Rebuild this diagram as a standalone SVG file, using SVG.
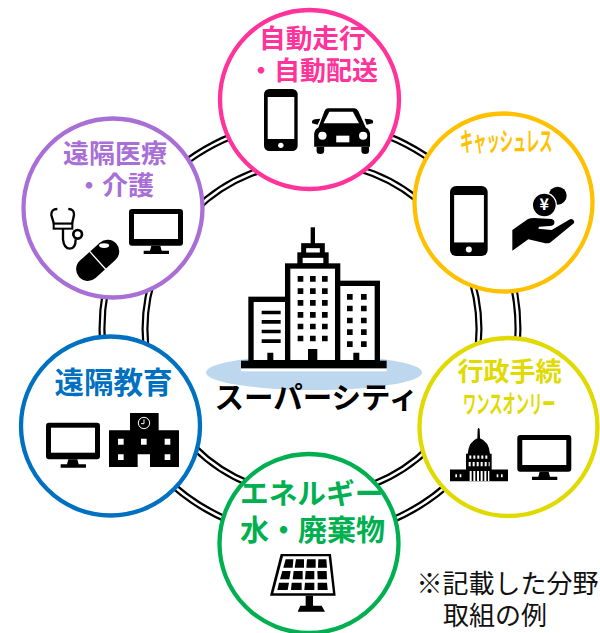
<svg xmlns="http://www.w3.org/2000/svg" xmlns:xlink="http://www.w3.org/1999/xlink" width="600" height="633" viewBox="0 0 600 633">
<style>
text{font-family:"Noto Sans CJK JP","Noto Sans",sans-serif;font-weight:700}
.ring-o{fill:none;stroke:#000;stroke-width:7}
.ring-i{fill:none;stroke:#fff;stroke-width:2.6}
.c{fill:#fff;stroke-width:4.3}
.k{fill:#000}
.w{fill:#fff}
.pink{fill:#FF3399}.orange{fill:#FFC000}.purple{fill:#A86FD6}.blue{fill:#0070C0}.green{fill:#00B050}.yellow{fill:#E0DA00}
.note{font-weight:400;font-size:26px;fill:#111}
</style>
<defs>
<g id="phone"><rect width="100" height="186" rx="16" class="k"/><rect x="11" y="24" width="79" height="126" class="w"/><circle cx="50" cy="169" r="8" class="w"/></g>
<g id="monitor"><rect width="162" height="110" rx="9" class="k"/><rect x="15" y="15" width="132" height="75" class="w"/><path d="M67 110H94L98 125H120V135H44V125H63Z" class="k"/></g>
</defs>
<rect width="600" height="633" fill="#fff"/>
<g id="connectors">
<circle class="ring-o" cx="310" cy="329" r="208"/><circle class="ring-i" cx="310" cy="329" r="208"/>
<circle class="ring-o" cx="312" cy="329" r="167"/><circle class="ring-i" cx="312" cy="329" r="167"/>
</g>
<g id="center">
<ellipse cx="314" cy="372.5" rx="108" ry="17.5" fill="#BDD7EE"/>
<g transform="translate(200 220) scale(.3333)">
<rect x="123" y="445" width="437" height="9" class="w"/>
<rect x="153" y="238" width="112" height="190" class="w" stroke="#000" stroke-width="16"/>
<rect x="412" y="190" width="120" height="238" class="w" stroke="#000" stroke-width="16"/>
<rect x="300" y="105" width="78" height="33" class="w" stroke="#000" stroke-width="16"/>
<rect x="311" y="77" width="56" height="28" class="w" stroke="#000" stroke-width="15"/>
<rect x="332" y="22" width="13" height="50" class="k"/>
<rect x="263" y="138" width="150" height="290" class="w" stroke="#000" stroke-width="16"/>
<rect x="123" y="422" width="437" height="23" class="k"/>
<path class="k" d="M293 168h17v17h-17zM330 168h17v17h-17zM366 168h17v17h-17zM293 205h17v17h-17zM330 205h17v17h-17zM366 205h17v17h-17zM293 240h17v17h-17zM330 240h17v17h-17zM366 240h17v17h-17zM293 276h17v17h-17zM330 276h17v17h-17zM366 276h17v17h-17zM293 311h17v17h-17zM330 311h17v17h-17zM366 311h17v17h-17zM293 347h17v17h-17zM330 347h17v17h-17zM366 347h17v17h-17zM324 387h28v40h-28zM441 222h17v17h-17zM483 222h17v17h-17zM441 257h17v17h-17zM483 257h17v17h-17zM441 293h17v17h-17zM483 293h17v17h-17zM441 328h17v17h-17zM483 328h17v17h-17zM441 364h17v17h-17zM483 364h17v17h-17zM460 398h18v30h-18zM185 272h57v11h-57zM185 300h57v11h-57zM185 329h57v11h-57zM185 358h57v11h-57zM202 398h18v30h-18z"/>
</g>
<text x="214.5" y="408" font-size="29.5" fill="#000">スーパーシティ</text>
</g>
<g id="node-autonomous">
<circle class="c" cx="309.5" cy="99.5" r="89.5" stroke="#FF3399"/>
<text class="pink" x="259" y="48" font-size="26.7">自動走行</text>
<text class="pink" x="248" y="80" font-size="26">・自動配送</text>
<use xlink:href="#phone" href="#phone" transform="translate(264 89) scale(.3367 .3333)"/>
<g transform="translate(304.5 100) scale(.345 .3333)">
<path class="k" d="M68 25H145Q152 25 156 33L178 83Q190 88 190 105V140H28V105Q28 88 40 83L58 33Q61 25 68 25Z"/>
<path class="k" d="M35 140H57V152Q57 162 46 162Q35 162 35 152ZM165 140H187V152Q187 162 176 162Q165 162 165 152ZM38 74L22 70Q20 60 30 58L46 56ZM180 74L198 70Q202 60 190 58L174 56Z"/>
<path class="w" d="M55 70L72 35H140L158 70Z"/>
<circle class="w" cx="52" cy="107" r="12"/><circle class="w" cx="170" cy="107" r="12"/>
<rect class="w" x="92" y="107" width="38" height="20"/>
</g>
</g>
<g id="node-cashless">
<circle class="c" cx="503.5" cy="202.5" r="89" stroke="#FFC000"/>
<text class="orange" transform="translate(460 151) scale(.5 1)" font-size="26.5">キャッシュレス</text>
<use xlink:href="#phone" href="#phone" transform="translate(450 186) scale(.3767 .3763)"/>
<g transform="translate(505 180) scale(.3333)">
<circle class="k" cx="158" cy="47" r="27"/>
<circle class="k" cx="118" cy="75" r="36" stroke="#fff" stroke-width="4"/>
<path class="k" d="M22 150L68 118Q80 112 100 115L140 117Q150 120 148 130Q146 138 135 138L102 140L100 146L140 150L195 118Q205 115 208 125Q208 130 200 135L135 188Q125 192 115 188L70 178L22 212Z"/>
<text transform="scale(3)" x="39.3" y="30" font-size="16" text-anchor="middle" fill="#fff">¥</text>
</g>
</g>
<g id="node-medical">
<circle class="c" cx="113" cy="208" r="89.5" stroke="#A86FD6"/>
<text class="purple" x="63" y="163" font-size="26">遠隔医療</text>
<text class="purple" x="76" y="195" font-size="26">・介護</text>
<use xlink:href="#monitor" href="#monitor" transform="translate(129 209) scale(.3333)"/>
<g transform="translate(45 200) scale(.3333)">
<path fill="none" stroke="#000" stroke-width="7" d="M37 27Q18 27 19 45L27 72H81L87 45Q88 27 70 27M54 86V118Q57 146 75 146Q92 146 92 118"/>
<rect x="26" y="71" width="56" height="15" class="w" stroke="#000" stroke-width="6"/>
<circle cx="98" cy="103" r="13" class="w" stroke="#000" stroke-width="8"/>
<g transform="translate(158 181) rotate(-42)">
<rect x="-75" y="-35" width="150" height="70" rx="35" class="k"/>
<rect x="-2" y="-37" width="4" height="74" class="w"/>
<ellipse cx="44" cy="-20" rx="15" ry="7" class="w" transform="rotate(42 44 -20)"/>
</g>
</g>
</g>
<g id="node-education">
<circle class="c" cx="110.5" cy="426" r="89.5" stroke="#0070C0"/>
<text class="blue" x="54.5" y="393" font-size="29.5">遠隔教育</text>
<use xlink:href="#monitor" href="#monitor" transform="translate(46 422.7) scale(.3333)"/>
<g transform="translate(0 320) scale(.3333)">
<path class="k" d="M390 279H476V331H537V441H450V403H413V441H327V331H390Z"/>
<path class="w" d="M354 356h17v18h-17zM423 356h17v18h-17zM494 356h17v18h-17zM354 403h17v17h-17zM494 403h17v17h-17z"/>
<circle cx="432" cy="309" r="17" fill="none" stroke="#fff" stroke-width="3"/>
<path d="M432 298V311H423" fill="none" stroke="#fff" stroke-width="3"/>
</g>
</g>
<g id="node-energy">
<circle class="c" cx="309" cy="543.5" r="89.5" stroke="#00B050"/>
<text class="green" x="240" y="504" font-size="28.7">エネルギー</text>
<text class="green" x="240" y="541" font-size="29">水・廃棄物</text>
<g transform="translate(255 470) scale(.3333)">
<path class="k" d="M77 252H228L242 377H45Z"/>
<path class="w" d="M84 259H221L234 370H55Z"/>
<path class="k" d="M92 268h23l-2 25h-28zM123 268h24v25h-28zM156 268h26v25h-28zM190 268h24l2 25h-27zM82 303h25l-4 25h-28zM116 303h27v25h-30zM152 303h26v25h-28zM187 303h28l1 25h-28zM72 338h30l-4 22h-31zM110 338h30v22h-32zM150 338h28v22h-30zM188 338h28l2 22h-30zM152 377h22v30h-22zM128 425L136 407H200L210 425Z"/>
</g>
</g>
<g id="node-government">
<circle class="c" cx="508.5" cy="427" r="89" stroke="#E0DA00"/>
<text class="yellow" x="457.5" y="381" font-size="26">行政手続</text>
<text class="yellow" transform="translate(463 413) scale(.53 1)" font-size="25">ワンスオンリー</text>
<use xlink:href="#monitor" href="#monitor" transform="translate(517.3 435) scale(.3333)"/>
<g transform="translate(440 428) scale(.3333 .41) translate(0 -25)">
<path class="k" d="M112 50L113 28Q116 22 119 28L120 50Q147 58 150 88H155V126H204V155H30V126H78V88H83Q86 58 112 50Z"/>
<path class="w" d="M88 92h6v8h-6zM100 92h6v8h-6zM112 92h6v8h-6zM124 92h6v8h-6zM136 92h6v8h-6zM86 108h6v10h-6zM98 108h6v10h-6zM110 108h6v10h-6zM122 108h6v10h-6zM134 108h6v10h-6zM146 108h3v10h-3zM89 130h6v24h-6zM100 130h6v24h-6zM111 130h6v24h-6zM122 130h6v24h-6zM133 130h6v24h-6zM144 130h4v24h-4zM46 138h5v7h-5zM59 138h5v7h-5zM170 138h5v7h-5zM183 138h5v7h-5z"/>
</g>
</g>
<g id="note">
<text class="note" x="416.5" y="593">※記載した分野</text>
<text class="note" x="443" y="625">取組の例</text>
</g>
</svg>
